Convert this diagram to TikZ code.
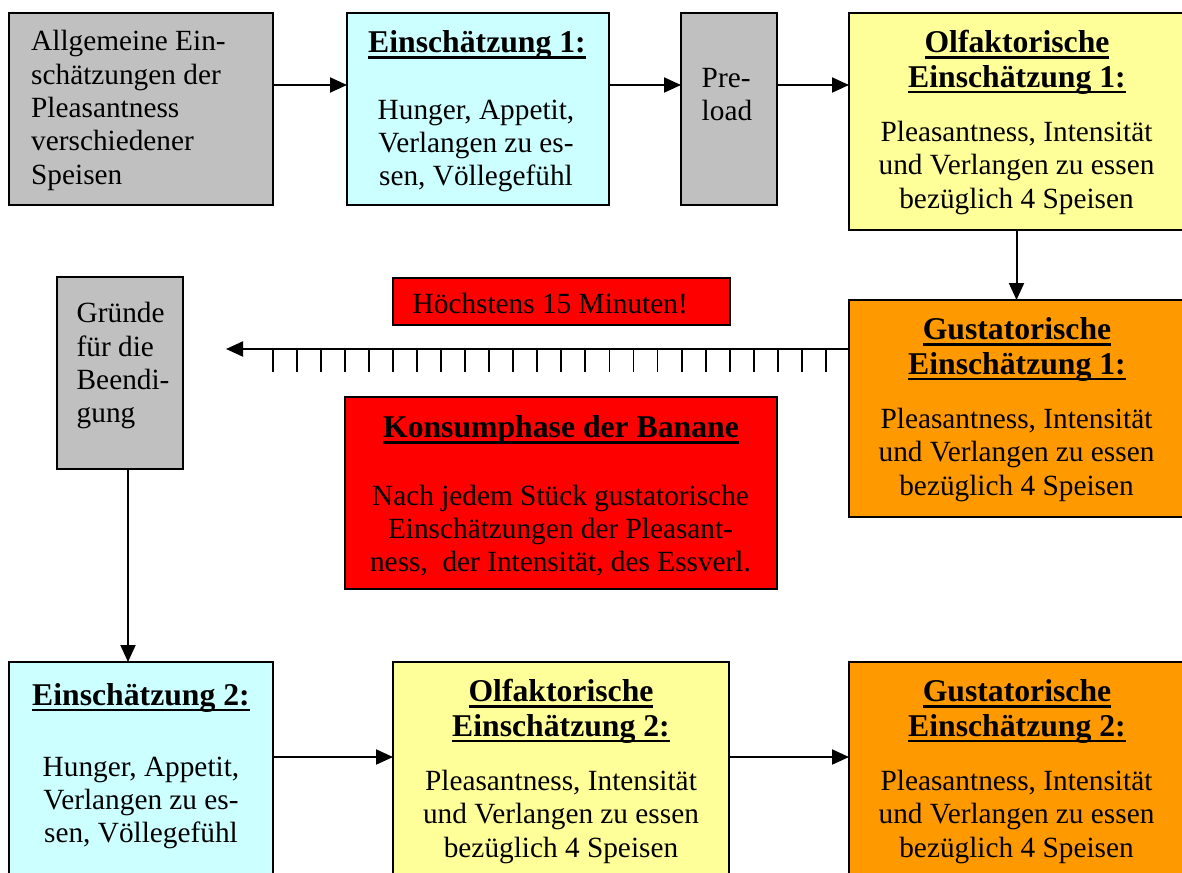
\documentclass[tikz,border=0pt]{standalone}
\usepackage{fontspec}
\setmainfont{Liberation Serif}
\usetikzlibrary{arrows.meta}
\definecolor{cgray}{HTML}{C0C0C0}
\definecolor{ccyan}{HTML}{CCFFFF}
\definecolor{cyell}{HTML}{FFFF99}
\definecolor{corng}{HTML}{FF9900}
\definecolor{cred}{HTML}{FF0000}
\newcommand\bodyf{\fontsize{29.3}{33.3}\selectfont}
\newcommand\titlef{\fontsize{31.7}{34.7}\selectfont\bfseries}
\newcommand\ulx[1]{\setbox0\hbox{#1}\rlap{\rule[-6.2pt]{\wd0}{2.8pt}}\box0}
\tikzset{
  box/.style={draw=black, line width=2pt, inner sep=0pt, outer sep=0pt},
  body/.style={inner sep=0pt, font=\bodyf},
  ttl/.style={inner sep=0pt, font=\titlef, align=center, anchor=north},
  arr/.style={line width=2pt, -{Triangle[length=17pt,width=15pt]}},
  tick/.style={line width=1.8pt},
}
\begin{document}
\begin{tikzpicture}[x=1pt,y=-1pt]
\useasboundingbox (0,0) rectangle (1182,872);
\clip (0,0) rectangle (1182,872);
\fill[white] (0,0) rectangle (1182,872);
% boxes
\node[box, fill=cgray, minimum width=264pt, minimum height=192pt] (A) at (141,109) {};
\node[box, fill=ccyan, minimum width=262pt, minimum height=192pt] (B) at (478,109) {};
\node[box, fill=cgray, minimum width=96pt, minimum height=192pt] (P) at (729,109) {};
\node[box, fill=cyell, minimum width=335pt, minimum height=217pt] (C) at (1016.5,121.5) {};
\node[box, fill=corng, minimum width=335pt, minimum height=217pt] (D) at (1016.5,408.5) {};
\node[box, fill=cred, minimum width=337pt, minimum height=47pt] (H) at (561.5,301.5) {};
\node[box, fill=cgray, minimum width=126pt, minimum height=192pt] (G) at (120,373) {};
\node[box, fill=cred, minimum width=432pt, minimum height=192pt] (K) at (561,493) {};
\node[box, fill=ccyan, minimum width=264pt, minimum height=230pt] (E2) at (141,777) {};
\node[box, fill=cyell, minimum width=336pt, minimum height=230pt] (O2) at (561,777) {};
\node[box, fill=corng, minimum width=335pt, minimum height=230pt] (G2) at (1016.5,777) {};
% texts
\node[body, align=left, anchor=north west] (tA) at (31,27.4) {\strut Allgemeine Ein-\\schätzungen der\\Pleasantness\\verschiedener\\Speisen};
\node[ttl] (tB1) at (477,28) {\strut\ulx{Einschätzung 1:}};
\node[body, align=center, anchor=north] (tB2) at (476,95.7) {\strut Hunger, Appetit,\\Verlangen zu es-\\sen, Völlegefühl};
\node[body, align=left, anchor=north west] (tP) at (701.5,63.7) {\strut Pre-\\load};
\node[ttl] (tC1) at (1017,28) {\strut\ulx{Olfaktorische}\\\ulx{Einschätzung 1:}};
\node[body, align=center, anchor=north] (tC2) at (1016.5,118) {\strut Pleasantness, Intensität\\und Verlangen zu essen\\bezüglich 4 Speisen};
\node[ttl] (tD1) at (1017,315) {\strut\ulx{Gustatorische}\\\ulx{Einschätzung 1:}};
\node[body, align=center, anchor=north] (tD2) at (1016.5,405) {\strut Pleasantness, Intensität\\und Verlangen zu essen\\bezüglich 4 Speisen};
\node[body, anchor=north west] (tH) at (412.5,289.7) {\strut Höchstens 15 Minuten!};
\node[body, align=left, anchor=north west] (tG) at (76.5,299.4) {\strut Gründe\\für die\\Beendi-\\gung};
\node[ttl] (tK1) at (561,413) {\strut\ulx{Konsumphase der Banane}};
\node[body, align=center, anchor=north] (tK2) at (560.5,481.7) {\strut Nach jedem Stück gustatorische\\Einschätzungen der Pleasant-\\ness,\ \ der Intensität, des Essverl.};
\node[ttl] (tE1) at (141,680.7) {\strut\ulx{Einschätzung 2:}};
\node[body, align=center, anchor=north] (tE2) at (141,752.7) {\strut Hunger, Appetit,\\Verlangen zu es-\\sen, Völlegefühl};
\node[ttl] (tO1) at (561,677) {\strut\ulx{Olfaktorische}\\\ulx{Einschätzung 2:}};
\node[body, align=center, anchor=north] (tO2) at (561,767) {\strut Pleasantness, Intensität\\und Verlangen zu essen\\bezüglich 4 Speisen};
\node[ttl] (tG1) at (1017,677) {\strut\ulx{Gustatorische}\\\ulx{Einschätzung 2:}};
\node[body, align=center, anchor=north] (tG2) at (1016.5,767) {\strut Pleasantness, Intensität\\und Verlangen zu essen\\bezüglich 4 Speisen};
% connectors
\coordinate (row1) at (0,85);
\coordinate (row3) at (0,757);
\coordinate (colG) at (128,0);
\coordinate (tipL) at (226,349);
\draw[arr] (A.east |- row1) -- (B.west |- row1);
\draw[arr] (B.east |- row1) -- (P.west |- row1);
\draw[arr] (P.east |- row1) -- (C.west |- row1);
\draw[arr] (C.south) -- (D.north);
\draw[arr] (D.west |- tipL) -- (tipL);
\foreach \i in {0,...,23} \draw[tick] ({272.6+24.06*\i},349) -- ++(0,23);
\draw[arr] (G.south -| colG) -- (E2.north -| colG);
\draw[arr] (E2.east |- row3) -- (O2.west |- row3);
\draw[arr] (O2.east |- row3) -- (G2.west |- row3);
\end{tikzpicture}
\end{document}
